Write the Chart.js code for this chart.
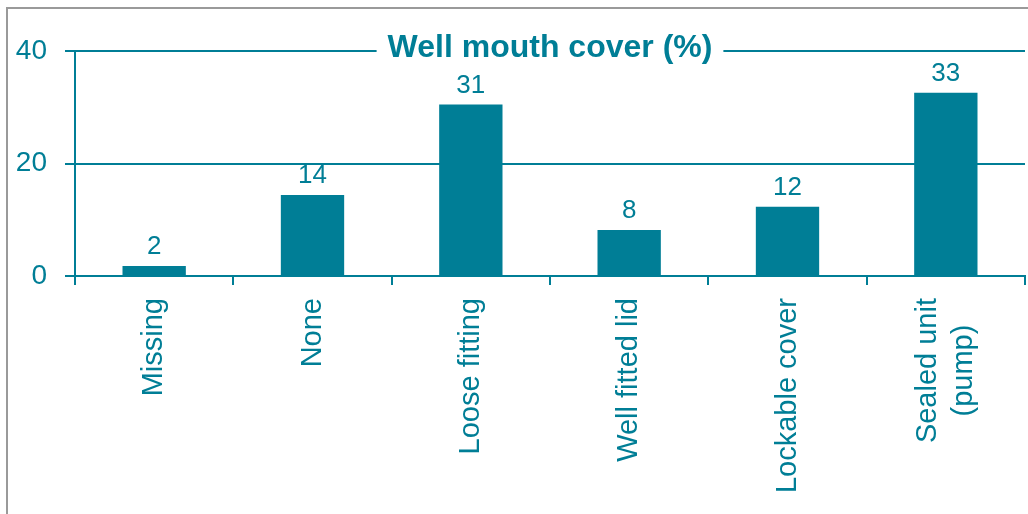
<!DOCTYPE html>
<html>
<head>
<meta charset="utf-8">
<script src="https://cdn.jsdelivr.net/npm/chart.js@4/dist/chart.umd.min.js"></script>
<style>
  html, body { margin: 0; padding: 0; background: #fff; }
  #wrap { width: 1028px; height: 514px; }
</style>
</head>
<body>
<div id="wrap"><canvas id="barChart" width="1028" height="514"></canvas></div>
<script>
// chart data
const categories = ["Missing", "None", "Loose fitting", "Well fitted lid", "Lockable cover", ["Sealed unit", "(pump)"]];
const coverValues = [1.8, 14.4, 30.5, 8.2, 12.3, 32.6];
const valueLabels = ["2", "14", "31", "8", "12", "33"];
const yTicks = [0, 20, 40];
const chartTitle = "Well mouth cover (%)";

const teal = "#007e96";
const fontFamily = "'Liberation Sans', Arial, sans-serif";

// grey frame along the top and left edges
const framePlugin = {
    id: "frame",
    beforeDraw(chart) {
        const c = chart.ctx;
        c.save();
        c.fillStyle = "#fff";
        c.fillRect(0, 0, chart.width, chart.height);
        c.strokeStyle = "#9a9a9a";
        c.lineWidth = 2;
        c.beginPath();
        c.moveTo(7, chart.height);
        c.lineTo(7, 8);
        c.lineTo(chart.width, 8);
        c.stroke();
        c.restore();
    },
};

// numbers above the bars
const valueLabelPlugin = {
    id: "valueLabels",
    afterDatasetsDraw(chart) {
        const c = chart.ctx;
        const meta = chart.getDatasetMeta(0);
        c.save();
        c.fillStyle = teal;
        c.font = "26px " + fontFamily;
        c.textAlign = "center";
        c.textBaseline = "bottom";
        meta.data.forEach((bar, i) => {
            c.fillText(valueLabels[i], bar.x, bar.y - 6);
        });
        c.restore();
    },
};

// vertical category labels, multi-line ones centred on each other
const categoryLabelPlugin = {
    id: "categoryLabels",
    afterDraw(chart) {
        const c = chart.ctx;
        const xs = chart.scales.x;
        const lineH = 36;
        c.save();
        c.fillStyle = teal;
        c.font = "29px " + fontFamily;
        c.textBaseline = "middle";
        c.textAlign = "center";
        categories.forEach((label, i) => {
            const lines = Array.isArray(label) ? label : [label];
            const maxW = Math.max(...lines.map((l) => c.measureText(l).width));
            const x = xs.getPixelForTick(i);
            const top = xs.top + 22;
            c.save();
            c.translate(x, top);
            c.rotate(-Math.PI / 2);
            lines.forEach((l, j) => {
                const off = (j - (lines.length - 1) / 2) * lineH;
                c.fillText(l, -maxW / 2, off);
            });
            c.restore();
        });
        c.restore();
    },
};

// title sitting on the top gridline
const titlePlugin = {
    id: "lineTitle",
    afterDraw(chart) {
        const c = chart.ctx;
        const area = chart.chartArea;
        const cx = (area.left + area.right) / 2;
        c.save();
        c.font = "bold 32px " + fontFamily;
        const w = c.measureText(chartTitle).width;
        c.fillStyle = "#fff";
        c.fillRect(cx - w / 2 - 11, area.top - 22, w + 22, 30);
        c.fillStyle = teal;
        c.textAlign = "center";
        c.textBaseline = "alphabetic";
        c.fillText(chartTitle, cx, area.top + 6);
        c.restore();
    },
};

const ctx = document.getElementById("barChart").getContext("2d");

new Chart(ctx, {
    type: "bar",
    data: {
        labels: categories,
        datasets: [
            {
                data: coverValues,
                backgroundColor: teal,
                borderWidth: 0,
                categoryPercentage: 1,
                barPercentage: 0.4,
            },
        ],
    },
    options: {
        responsive: false,
        animation: false,
        layout: { padding: { top: 51, right: 3, left: 0, bottom: 0 } },
        plugins: {
            legend: { display: false },
            tooltip: { enabled: false },
        },
        scales: {
            x: {
                afterFit(scale) { scale.height = 238; },
                grid: {
                    drawOnChartArea: false,
                    offset: true,
                    color: teal,
                    lineWidth: 2,
                    tickLength: 9,
                },
                border: { color: teal, width: 2 },
                ticks: {
                    display: false,
                    autoSkip: false,
                },
            },
            y: {
                min: 0,
                max: 40,
                afterFit(scale) { scale.width = 75; },
                afterBuildTicks(scale) {
                    scale.ticks = yTicks.map((v) => ({ value: v }));
                },
                grid: {
                    color: teal,
                    lineWidth: 2,
                    tickLength: 10,
                },
                border: { color: teal, width: 2 },
                ticks: {
                    padding: 18,
                    color: teal,
                    font: { family: fontFamily, size: 28 },
                },
            },
        },
    },
    plugins: [framePlugin, valueLabelPlugin, categoryLabelPlugin, titlePlugin],
});
</script>
</body>
</html>
